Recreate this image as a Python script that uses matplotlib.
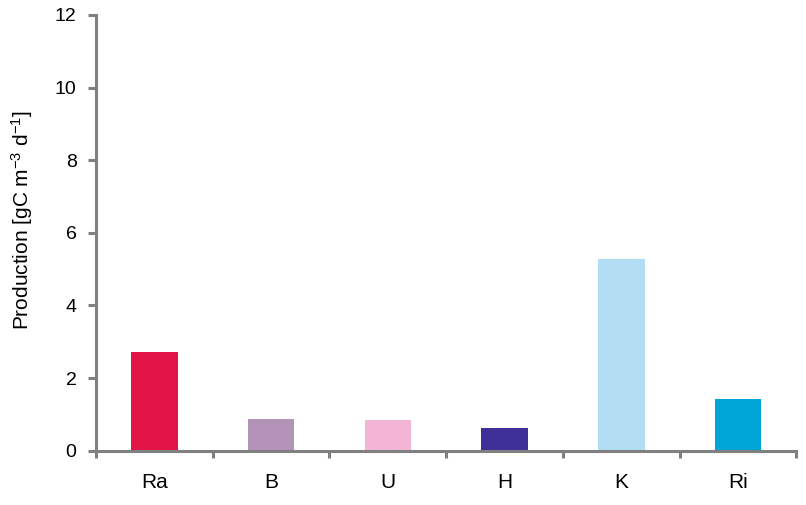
import numpy as np
import matplotlib.pyplot as plt

plt.rcParams['font.family'] = ['Liberation Sans', 'DejaVu Sans']
plt.rcParams['mathtext.default'] = 'regular'

# production per site
sites = ['Ra', 'B', 'U', 'H', 'K', 'Ri']
production = [2.72, 0.86, 0.84, 0.62, 5.28, 1.42]
colors = ['#E31548', '#B393B8', '#F2B5D5', '#3D2F96', '#B2DDF2', '#00A6D6']

fig = plt.figure(figsize=(8.06, 5.05), dpi=100)
ax = fig.add_axes([0.1191, 0.1075, 0.8691, 0.8628])

x = np.arange(len(sites))
ax.bar(x, production, width=0.4, color=colors)

ax.set_xlim(-0.5, len(sites) - 0.5)
ax.set_ylim(0, 12)
ax.set_yticks(range(0, 13, 2))
ax.set_xticks(x)
ax.set_xticklabels(sites)
ax.set_xticks(np.arange(-0.5, len(sites)), minor=True)

grey = '#808080'
for side in ['top', 'right']:
    ax.spines[side].set_visible(False)
for side in ['left', 'bottom']:
    ax.spines[side].set_color(grey)
    ax.spines[side].set_linewidth(2.2)

ax.tick_params(axis='x', which='major', length=0, pad=16, labelsize=15)
ax.tick_params(axis='x', which='minor', length=5, width=2.2, color=grey)
ax.tick_params(axis='y', length=6, width=2.2, color=grey, pad=8, labelsize=14)

ax.set_ylabel('Production [gC m$^{-3}$ d$^{-1}$]', fontsize=15)
ax.yaxis.set_label_coords(-0.087, 0.53)

fig.savefig('out.png', dpi=100)
